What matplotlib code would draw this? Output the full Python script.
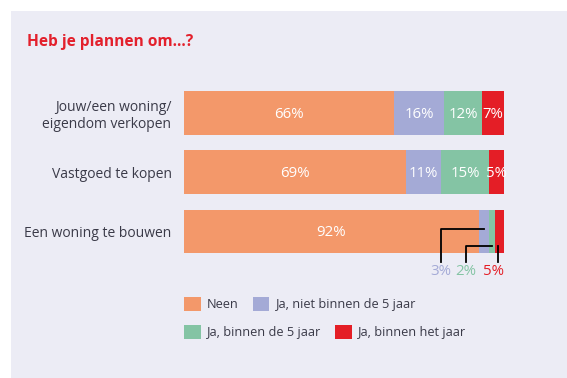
import matplotlib
matplotlib.use("Agg")
import matplotlib.pyplot as plt
from matplotlib.patches import Rectangle, Patch

plt.rcParams['font.family'] = ['Open Sans', 'DejaVu Sans']

# ---- data ----
categories = ["Jouw/een woning/\neigendom verkopen", "Vastgoed te kopen", "Een woning te bouwen"]
series_names = ["Neen", "Ja, niet binnen de 5 jaar", "Ja, binnen de 5 jaar", "Ja, binnen het jaar"]
neen = [65.6, 69.4, 92.2]
niet_5jaar = [15.6, 10.9, 3.1]
binnen_5jaar = [11.9, 15.0, 1.9]
binnen_jaar = [6.9, 4.7, 2.8]
label_neen = ["66%", "69%", "92%"]
label_niet_5jaar = ["16%", "11%", "3%"]
label_binnen_5jaar = ["12%", "15%", "2%"]
label_binnen_jaar = ["7%", "5%", "5%"]

colors = ["#F3986A", "#A4AAD6", "#84C4A4", "#E41E26"]
text_col = "#3A3A48"
bg = "#ECECF5"

W, H = 567, 378
fig = plt.figure(figsize=(W / 100, H / 100), dpi=100)
fig.patch.set_facecolor("white")
fig.patches.append(Rectangle((11 / W, 0), (W - 11) / W, (H - 11) / H,
                             transform=fig.transFigure, facecolor=bg,
                             edgecolor="none", zorder=-5))

fig.text(27 / W, 1 - 42 / H, "Heb je plannen om...?", fontsize=11.2,
         fontweight="bold", color="#E3202C", va="center", ha="left")

top_px, bot_px = 83.5, 261.0
ax = fig.add_axes([184 / W, 1 - bot_px / H, 320 / W, (bot_px - top_px) / H])
ax.set_facecolor("none")
ax.set_zorder(2)
for s in ax.spines.values():
    s.set_visible(False)

series = [neen, niet_5jaar, binnen_5jaar, binnen_jaar]
labels = [label_neen, label_niet_5jaar, label_binnen_5jaar, label_binnen_jaar]
ypos = list(range(len(categories)))
left = [0.0] * len(categories)
lefts = []
for vals, col, name in zip(series, colors, series_names):
    ax.barh(ypos, vals, left=left, height=0.74, color=col, label=name)
    lefts.append(list(left))
    left = [l + v for l, v in zip(left, vals)]

# in-bar labels
for si, (vals, labs) in enumerate(zip(series, labels)):
    for i in ypos:
        if i == 2 and si > 0:
            continue
        ax.text(lefts[si][i] + vals[i] / 2, i + 0.02, labs[i], ha="center", va="center",
                color="white", fontsize=10.8, fontweight="medium")

# callouts for the last row (small segments)
r = 2
lab_y = 2.67
line_bottom = 2.515
# blue segment
bx = lefts[1][r] + niet_5jaar[r] / 2
lx1 = 80.3
ax.plot([bx, lx1, lx1], [r - 0.04, r - 0.04, line_bottom], color="black", lw=1.3, clip_on=False)
ax.text(lx1, lab_y, label_niet_5jaar[r], color=colors[1], ha="center", va="center", fontsize=10.8)
# green segment
gx = lefts[2][r] + binnen_5jaar[r] / 2
lx2 = 88.1
ax.plot([gx, lx2, lx2], [r + 0.245, r + 0.245, line_bottom], color="black", lw=1.3, clip_on=False)
ax.text(lx2, lab_y, label_binnen_5jaar[r], color=colors[2], ha="center", va="center", fontsize=10.8)
# red segment
rx = lefts[3][r] + binnen_jaar[r] / 2 - 0.4
ax.plot([rx, rx], [r + 0.245, line_bottom], color="black", lw=1.3, clip_on=False)
ax.text(96.6, lab_y, label_binnen_jaar[r], color=colors[3], ha="center", va="center", fontsize=10.8)

ax.set_xlim(0, 100)
ax.set_ylim(2.5, -0.5)
ax.set_xticks([])
ax.set_yticks(ypos)
ax.set_yticklabels(categories, fontsize=10, color=text_col, multialignment="right")
ax.tick_params(axis="y", length=0, pad=9)

# legend rows
handles = [Patch(facecolor=c, edgecolor="none") for c in colors]
common = dict(frameon=False, fontsize=9.2, handlelength=1.3, handleheight=1.3,
              handletextpad=0.5, columnspacing=1.1, ncol=2, borderpad=0,
              borderaxespad=0, labelcolor=text_col, loc="center left")
leg1 = fig.legend(handles[:2], series_names[:2], bbox_to_anchor=(184 / W, 1 - 304 / H), **common)
leg2 = fig.legend(handles[2:], series_names[2:], bbox_to_anchor=(184 / W, 1 - 332 / H), **common)

fig.savefig("out.png", dpi=100, facecolor=fig.get_facecolor())
